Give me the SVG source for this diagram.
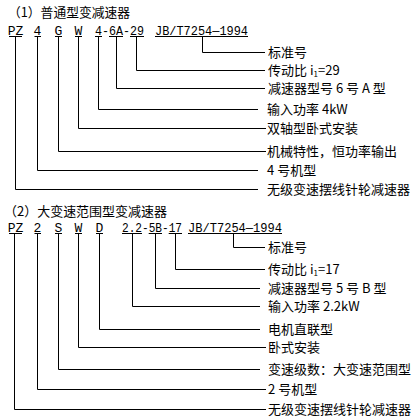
<svg xmlns="http://www.w3.org/2000/svg" width="419" height="419" viewBox="0 0 419 419">
<style>
.bg{fill:#fff}
.t{font-family:"Noto Sans CJK SC","Noto Sans",sans-serif;font-size:13px;fill:#000}
.c{font-family:"Liberation Mono","DejaVu Sans Mono",monospace;font-size:13px;fill:#000}
.m{text-anchor:middle}
.u{stroke:#000;stroke-width:1;fill:none}
.k{stroke:#000;stroke-width:1;fill:none}
.sub{font-size:8px}
</style>
<rect class="bg" x="0" y="0" width="419" height="419"/>

<g id="title1"><text class="t" x="8" y="16.5" textLength="122" lengthAdjust="spacingAndGlyphs">（1）普通型变减速器</text></g>
<g id="title2"><text class="t" x="4" y="216" textLength="163" lengthAdjust="spacingAndGlyphs">（2）大变速范围型变减速器</text></g>

<!-- section 1 codes -->
<g id="s1-PZ"><text class="c m" x="15.5" y="35">PZ</text><line class="u" x1="9" y1="36.5" x2="22" y2="36.5"/></g>
<g id="s1-4"><text class="c m" x="37.5" y="35">4</text><line class="u" x1="34.5" y1="36.5" x2="41" y2="36.5"/></g>
<g id="s1-G"><text class="c m" x="58.5" y="35">G</text><line class="u" x1="55" y1="36.5" x2="62" y2="36.5"/></g>
<g id="s1-W"><text class="c m" x="78.5" y="35">W</text><line class="u" x1="75" y1="36.5" x2="82" y2="36.5"/></g>
<g id="s1-46A29"><text class="c" x="95" y="35" textLength="49" lengthAdjust="spacingAndGlyphs">4-6A-29</text>
<line class="u" x1="95" y1="36.5" x2="102" y2="36.5"/><line class="u" x1="109" y1="36.5" x2="123" y2="36.5"/><line class="u" x1="130" y1="36.5" x2="144" y2="36.5"/></g>
<g id="s1-JB"><text class="c" x="155" y="35" textLength="93" lengthAdjust="spacingAndGlyphs">JB/T7254—1994</text><line class="u" x1="155" y1="36.5" x2="248" y2="36.5"/></g>

<!-- section 1 labels -->
<g id="s1-l1"><text class="t" x="268" y="57">标准号</text></g>
<g id="s1-l2"><text class="t" x="268" y="75">传动比 i<tspan class="sub" dy="2">1</tspan><tspan dy="-2">=29</tspan></text></g>
<g id="s1-l3"><text class="t" x="268" y="93">减速器型号 6 号 A 型</text></g>
<g id="s1-l4"><text class="t" x="267" y="114">输入功率 4kW</text></g>
<g id="s1-l5"><text class="t" x="267" y="133">双轴型卧式安装</text></g>
<g id="s1-l6"><text class="t" x="267" y="156">机械特性，恒功率输出</text></g>
<g id="s1-l7"><text class="t" x="267" y="175">4 号机型</text></g>
<g id="s1-l8"><text class="t" x="267" y="194">无级变速摆线针轮减速器</text></g>

<!-- section 2 codes -->
<g id="s2-PZ"><text class="c m" x="15.5" y="232">PZ</text><line class="u" x1="9" y1="233.5" x2="22" y2="233.5"/></g>
<g id="s2-2"><text class="c m" x="37.5" y="232">2</text><line class="u" x1="34.5" y1="233.5" x2="41" y2="233.5"/></g>
<g id="s2-S"><text class="c m" x="58.5" y="232">S</text><line class="u" x1="55" y1="233.5" x2="62" y2="233.5"/></g>
<g id="s2-W"><text class="c m" x="78.5" y="232">W</text><line class="u" x1="75" y1="233.5" x2="82" y2="233.5"/></g>
<g id="s2-D"><text class="c m" x="99.5" y="232">D</text><line class="u" x1="96" y1="233.5" x2="103" y2="233.5"/></g>
<g id="s2-225B17"><text class="c" x="122" y="232" textLength="60" lengthAdjust="spacingAndGlyphs">2.2-5B-17</text>
<line class="u" x1="122" y1="233.5" x2="142" y2="233.5"/><line class="u" x1="148.7" y1="233.5" x2="162" y2="233.5"/><line class="u" x1="168.7" y1="233.5" x2="182" y2="233.5"/></g>
<g id="s2-JB"><text class="c" x="188" y="232" textLength="94" lengthAdjust="spacingAndGlyphs">JB/T7254—1994</text><line class="u" x1="188" y1="233.5" x2="282" y2="233.5"/></g>

<!-- section 2 labels -->
<g id="s2-l1"><text class="t" x="268" y="252">标准号</text></g>
<g id="s2-l2"><text class="t" x="268" y="274">传动比 i<tspan class="sub" dy="2">1</tspan><tspan dy="-2">=17</tspan></text></g>
<g id="s2-l3"><text class="t" x="268" y="293">减速器型号 5 号 B 型</text></g>
<g id="s2-l4"><text class="t" x="268" y="311">输入功率 2.2kW</text></g>
<g id="s2-l5"><text class="t" x="268" y="334">电机直联型</text></g>
<g id="s2-l6"><text class="t" x="268" y="352">卧式安装</text></g>
<g id="s2-l7"><text class="t" x="268" y="374">变速级数：大变速范围型</text></g>
<g id="s2-l8"><text class="t" x="268" y="394">2 号机型</text></g>
<g id="s2-l9"><text class="t" x="268" y="414">无级变速摆线针轮减速器</text></g>

<g id="connectors">
<path class="k" d="M202.5 37 V52.5 H265"/>
<path class="k" d="M136.5 37 V70.5 H265"/>
<path class="k" d="M116.5 37 V88.5 H265"/>
<path class="k" d="M98.5 37 V109.5 H258"/>
<path class="k" d="M78.5 37 V128.5 H266"/>
<path class="k" d="M58.5 37 V151.5 H266"/>
<path class="k" d="M37.5 37 V170.5 H258"/>
<path class="k" d="M15.5 37 V189.5 H258"/>

<path class="k" d="M233.5 234 V247.5 H265"/>
<path class="k" d="M175.5 234 V269.5 H265"/>
<path class="k" d="M155.5 234 V288.5 H260"/>
<path class="k" d="M132.5 234 V306.5 H260"/>
<path class="k" d="M99.5 234 V329.5 H260"/>
<path class="k" d="M78.5 234 V347.5 H266"/>
<path class="k" d="M58.5 234 V369.5 H260"/>
<path class="k" d="M37.5 234 V389.5 H266"/>
<path class="k" d="M14.5 234 V409.5 H266"/>
</g>
</svg>
